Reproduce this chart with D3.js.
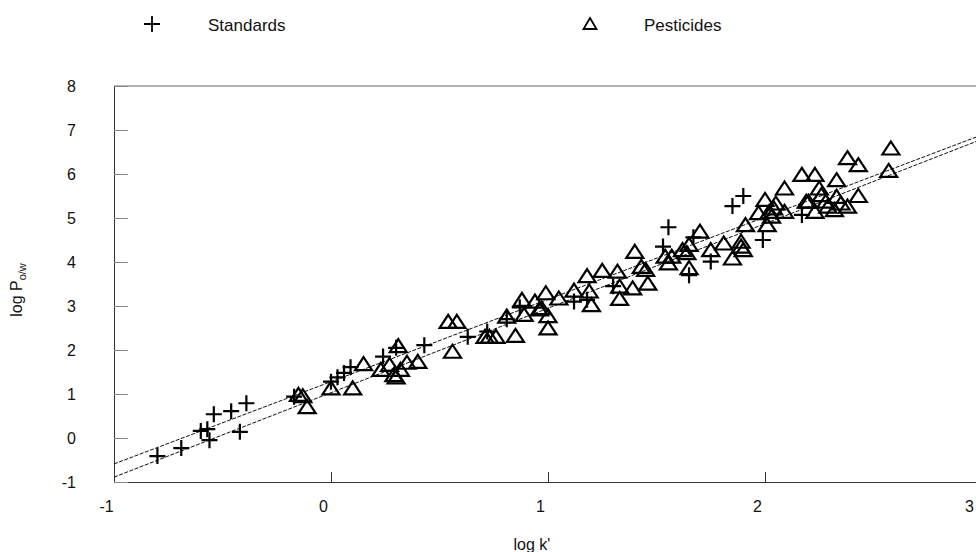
<!DOCTYPE html>
<html>
<head>
<meta charset="utf-8">
<script src="https://cdn.jsdelivr.net/npm/d3@7"></script>
<style>
  body { margin: 0; background: #fff; }
  svg { display: block; font-family: "Liberation Sans", Arial, sans-serif; }
</style>
</head>
<body>
<div id="chart"></div>
<script>
// log k' vs log P(o/w): standards (+) and pesticides (triangles)
const standardsX = [-0.80, -0.69, -0.60, -0.57, -0.56, -0.54, -0.46, -0.42, -0.39, -0.17,
  0.00, 0.03, 0.06, 0.09, 0.24, 0.30, 0.43, 0.63, 0.72, 0.81, 0.87, 1.12, 1.18, 1.30,
  1.53, 1.555, 1.65, 1.67, 1.75, 1.85, 1.90, 1.99, 2.17];
const standardsY = [-0.41, -0.23, 0.16, 0.20, -0.05, 0.54, 0.61, 0.14, 0.79, 0.94,
  1.28, 1.38, 1.48, 1.61, 1.85, 2.05, 2.11, 2.30, 2.42, 2.70, 2.97, 3.10, 3.14, 3.45,
  4.35, 4.79, 3.70, 4.56, 4.01, 5.27, 5.50, 4.50, 5.07];

const pesticidesX = [-0.15, -0.13, -0.11, 0.00, 0.10, 0.15, 0.23, 0.27, 0.31, 0.29, 0.30,
  0.32, 0.35, 0.40, 0.54, 0.58, 0.56, 0.71, 0.73, 0.76, 0.85, 0.81, 0.89, 0.88, 0.94,
  0.96, 0.97, 0.99, 1.00, 1.00, 1.05, 1.12, 1.18, 1.19, 1.20, 1.25, 1.32, 1.33, 1.39,
  1.33, 1.40, 1.46, 1.43, 1.45, 1.54, 1.57, 1.555, 1.62, 1.64, 1.65, 1.65, 1.70, 1.75,
  1.81, 1.85, 1.89, 1.89, 1.90, 1.91, 1.97, 2.00, 2.01, 2.02, 2.03, 2.04, 2.05, 2.09,
  2.09, 2.17, 2.19, 2.23, 2.33, 2.38, 2.43, 2.58, 2.57, 2.43, 2.25, 2.26, 2.20, 2.23,
  2.29, 2.33, 2.35, 2.32, 2.38, 2.28];
const pesticidesY = [0.98, 0.95, 0.70, 1.13, 1.13, 1.68, 1.55, 1.66, 2.09, 1.43, 1.38,
  1.55, 1.71, 1.73, 2.64, 2.64, 1.96, 2.30, 2.30, 2.30, 2.32, 2.76, 2.80, 3.14, 3.10,
  2.92, 2.95, 3.29, 2.77, 2.49, 3.17, 3.35, 3.68, 3.33, 3.02, 3.80, 3.78, 3.44, 3.40,
  3.16, 4.23, 3.51, 3.89, 3.82, 4.12, 4.12, 3.97, 4.27, 4.20, 4.39, 3.86, 4.69, 4.27,
  4.42, 4.08, 4.46, 4.35, 4.27, 4.84, 5.11, 5.41, 4.84, 5.14, 5.03, 5.22, 5.33, 5.14,
  5.67, 5.98, 5.37, 5.98, 5.86, 6.36, 6.20, 6.58, 6.07, 5.50, 5.67, 5.52, 5.37, 5.14,
  5.26, 5.48, 5.33, 5.18, 5.26, 5.37];

// two regression lines, given by their end points
const fitX = [-1, 3];
const fitUpperY = [-0.59, 6.89];
const fitLowerY = [-0.89, 6.79];

const xTicks = [-1, 0, 1, 2, 3];
const yTicks = [-1, 0, 1, 2, 3, 4, 5, 6, 7, 8];

const W = 976, H = 552;
const PLOT = { left: 114, right: 982, top: 86, bottom: 482 };

const svg = d3.select('#chart').append('svg')
  .attr('width', W)
  .attr('height', H);

const x = d3.scaleLinear().domain([-1, 3]).range([PLOT.left, PLOT.right]);
const y = d3.scaleLinear().domain([-1, 8]).range([PLOT.bottom, PLOT.top]);
const fmt = (d) => String(d);

// frame: top border
svg.append('line')
  .attr('x1', PLOT.left).attr('x2', PLOT.right)
  .attr('y1', PLOT.top).attr('y2', PLOT.top)
  .attr('stroke', '#666').attr('stroke-width', 1);

const xAxis = svg.append('g')
  .attr('transform', `translate(0,${PLOT.bottom})`)
  .call(d3.axisBottom(x).tickValues(xTicks).tickFormat(fmt)
    .tickSizeInner(-10).tickSizeOuter(0).tickPadding(19));
xAxis.select('.domain').attr('stroke', '#333');
xAxis.selectAll('.tick line').attr('stroke', '#333');
xAxis.selectAll('text')
  .attr('font-size', '16px')
  .attr('fill', '#111')
  .attr('dx', (d) => (d === 3 ? '-13' : '-8'));

const yAxis = svg.append('g')
  .attr('transform', `translate(${PLOT.left},0)`)
  .call(d3.axisLeft(y).tickValues(yTicks).tickFormat(fmt)
    .tickSizeInner(-14).tickSizeOuter(0).tickPadding(38));
yAxis.select('.domain').attr('stroke', '#333');
yAxis.selectAll('.tick line').attr('stroke', '#888');
yAxis.selectAll('text')
  .attr('font-size', '16px')
  .attr('fill', '#111');

// axis titles
svg.append('text')
  .attr('x', 532).attr('y', 550)
  .attr('text-anchor', 'middle')
  .attr('font-size', '16px')
  .attr('fill', '#111')
  .text("log k'");

const yTitle = svg.append('text')
  .attr('transform', 'translate(22,290) rotate(-90)')
  .attr('text-anchor', 'middle')
  .attr('font-size', '16px')
  .attr('fill', '#111');
yTitle.append('tspan').text('log P');
yTitle.append('tspan').attr('font-size', '11px').attr('dy', '4').text('o/w');

// regression lines
const line = d3.line().x((d) => x(d[0])).y((d) => y(d[1]));
svg.append('clipPath').attr('id', 'plotclip')
  .append('rect')
  .attr('x', PLOT.left).attr('y', PLOT.top)
  .attr('width', PLOT.right - PLOT.left).attr('height', PLOT.bottom - PLOT.top);

for (const ys of [fitUpperY, fitLowerY]) {
  svg.append('path')
    .datum(fitX.map((v, i) => [v, ys[i]]))
    .attr('clip-path', 'url(#plotclip)')
    .attr('d', line)
    .attr('fill', 'none')
    .attr('stroke', '#111')
    .attr('stroke-width', 1)
    .attr('stroke-dasharray', '4,1.5');
}

const PLUS = 'M-8,0H8M0,-8V8';
const TRI = 'M0,-7L8.5,6H-8.5Z';

svg.append('g').selectAll('path')
  .data(pesticidesX.map((v, i) => [v, pesticidesY[i]]))
  .join('path')
  .attr('transform', (d) => `translate(${x(d[0])},${y(d[1])})`)
  .attr('d', TRI)
  .attr('fill', 'none')
  .attr('stroke', '#000')
  .attr('stroke-width', 2.2)
  .attr('stroke-linejoin', 'miter');

svg.append('g').selectAll('path')
  .data(standardsX.map((v, i) => [v, standardsY[i]]))
  .join('path')
  .attr('transform', (d) => `translate(${x(d[0])},${y(d[1])})`)
  .attr('d', PLUS)
  .attr('fill', 'none')
  .attr('stroke', '#000')
  .attr('stroke-width', 2.2);

// legend
const legend = svg.append('g');
legend.append('path')
  .attr('transform', 'translate(152,24)')
  .attr('d', PLUS)
  .attr('fill', 'none')
  .attr('stroke', '#000')
  .attr('stroke-width', 1.8);
legend.append('text')
  .attr('x', 208).attr('y', 31)
  .attr('font-size', '17px').attr('fill', '#111')
  .text('Standards');
legend.append('path')
  .attr('transform', 'translate(590,24)')
  .attr('d', 'M0,-6L6.5,5H-6.5Z')
  .attr('fill', 'none')
  .attr('stroke', '#000')
  .attr('stroke-width', 1.8);
legend.append('text')
  .attr('x', 644).attr('y', 31)
  .attr('font-size', '17px').attr('fill', '#111')
  .text('Pesticides');
</script>
</body>
</html>
